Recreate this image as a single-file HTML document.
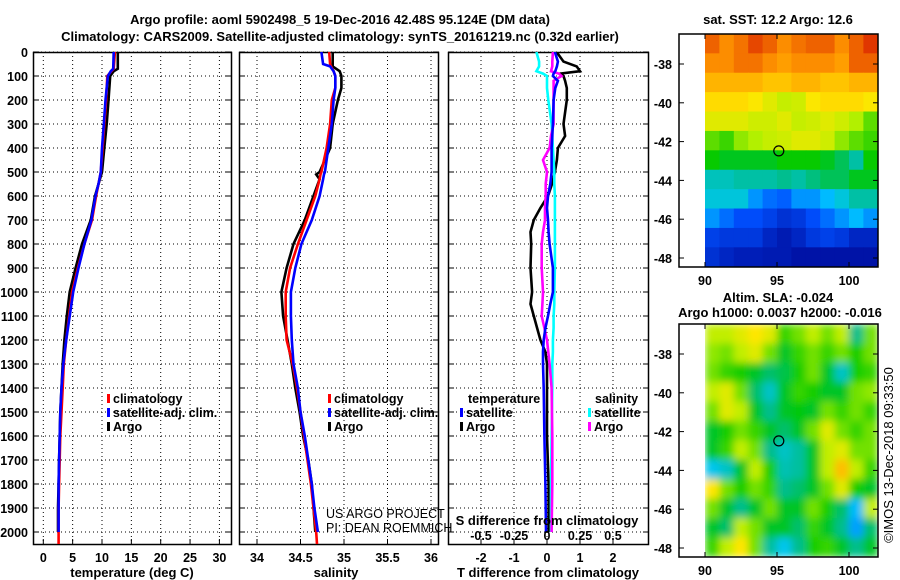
<!DOCTYPE html>
<html><head><meta charset="utf-8"><style>
html,body{margin:0;padding:0;background:#fff}
svg{display:block;font-family:"Liberation Sans",sans-serif}
.t{font-weight:bold;font-size:13px}
.k{font-weight:bold;font-size:12.5px}
</style></head><body>
<svg id="c" width="900" height="580" viewBox="0 0 900 580">
<defs>
<clipPath id="cp1"><rect x="33" y="52" width="199" height="493"/></clipPath>
<clipPath id="cp2"><rect x="239" y="52" width="200" height="493"/></clipPath>
<clipPath id="cp3"><rect x="448" y="52" width="201" height="493"/></clipPath>
<clipPath id="cpm2"><rect x="704" y="324" width="174" height="233"/></clipPath>
<filter id="bl" x="0" y="0" width="1" height="1"><feGaussianBlur stdDeviation="4"/></filter>
</defs>
<text class="t" x="340" y="24" text-anchor="middle">Argo profile: aoml 5902498_5 19-Dec-2016 42.48S 95.124E (DM data)</text>
<text class="t" x="340" y="41" text-anchor="middle">Climatology: CARS2009. Satellite-adjusted climatology: synTS_20161219.nc (0.32d earlier)</text>
<text class="t" x="778" y="24" text-anchor="middle">sat. SST: 12.2 Argo: 12.6</text>
<text class="t" x="778" y="302" text-anchor="middle">Altim. SLA: -0.024</text>
<text class="t" x="780" y="317" text-anchor="middle">Argo h1000: 0.0037 h2000: -0.016</text>
<text x="893" y="455" font-size="13" text-anchor="middle" transform="rotate(-90 893 455)">©IMOS 13-Dec-2018 09:33:50</text>
<g id="g"></g>
</svg>
<script>
// ---- profile data (depth in m) ----
const tDepth = [0,70,80,100,200,300,400,500,550,600,700,800,900,1000,1100,1200,1300,1400,1500,1600,1700,1800,1900,2000];
const tArgo  = [12.7,12.7,12.0,11.4,11.1,10.8,10.4,10.0,9.4,8.8,8.1,6.6,5.5,4.5,4.0,3.6,3.3,3.1,2.9,2.8,2.7,2.6,2.5,2.5];
const tClim  = [12.2,12.0,11.6,10.9,10.7,10.4,10.1,9.8,9.4,9.0,8.3,7.0,5.9,4.9,4.4,3.9,3.5,3.3,3.1,2.9,2.8,2.7,2.6,2.6];
const tSat   = [12.0,11.9,11.5,11.0,10.6,10.3,10.0,9.8,9.4,8.9,8.2,7.0,6.0,5.1,4.5,3.9,3.4,3.1,2.9,2.8,2.7,2.6,2.6,2.6];
const sDepth = [0,50,60,80,100,150,200,300,400,500,510,530,600,700,800,900,1000,1100,1200,1300,1400,1500,1600,1700,1800,1900,2000,2050];
const sArgo  = [34.87,34.87,34.87,34.95,34.97,34.97,34.93,34.87,34.84,34.72,34.68,34.72,34.65,34.55,34.42,34.34,34.28,34.30,34.35,34.40,34.44,34.49,34.53,34.59,34.63,34.65,34.67,null];
const sClim  = [34.83,34.84,34.85,34.88,34.90,34.90,34.86,34.84,34.80,34.74,34.73,34.72,34.67,34.57,34.47,34.38,34.33,34.33,34.34,34.41,34.46,34.50,34.54,34.58,34.62,34.65,34.68,34.69];
const sSat   = [34.74,34.76,34.84,34.88,34.90,34.90,34.88,34.86,34.82,34.78,34.77,34.76,34.72,34.63,34.51,34.44,34.39,34.39,34.40,34.42,34.47,34.50,34.55,34.59,34.63,34.66,34.70,null];
const dDepth = [0,40,60,80,90,100,120,150,200,300,350,400,450,500,550,600,650,700,750,800,900,1000,1050,1100,1150,1200,1250,1300,1400,1600,1800,2000];
const dTArgo = [0.29,0.5,0.9,1.0,0.4,0.5,0.55,0.6,0.6,0.5,0.55,0.33,0.3,0.24,0.15,0.03,-0.2,-0.4,-0.5,-0.48,-0.5,-0.45,-0.5,-0.4,-0.3,-0.2,-0.05,0.0,0.0,0.0,0.05,0.05];
const dTSat  = [0.24,0.33,0.3,0.25,0.2,0.18,0.33,0.25,0.2,0.18,0.16,0.14,0.14,0.14,0.1,0.03,0.0,0.03,0.05,0.08,0.18,0.18,0.1,0.03,-0.05,-0.1,-0.12,-0.12,-0.1,-0.08,-0.05,-0.03];
const dSSat  = [-0.08,-0.06,-0.06,-0.08,-0.03,0.0,0.0,0.0,0.01,0.035,0.04,0.045,0.05,0.055,0.055,0.06,0.06,0.06,0.06,0.06,0.06,0.055,0.055,0.05,0.05,0.045,0.045,0.04,0.04,0.035,0.03,0.03];
const dSArgo = [0.045,0.04,0.04,0.03,0.09,0.11,0.05,0.05,0.05,0.05,0.03,0.02,-0.03,0.0,-0.01,-0.01,-0.015,-0.015,-0.03,-0.04,-0.04,-0.03,-0.035,-0.04,-0.02,0.0,0.01,0.02,0.035,0.04,0.04,0.035];
// ---- map data (rows from north -36.5 to south -48.5, cols 90..102 E) ----
const sstRows = [
[15.5,15,15.3,15.8,15.5,15,15.3,15.5,15.5,15,15.5,16],
[15,15,15.3,15.3,15,14.8,15,15,15,14.8,15.5,15.5],
[14.5,14.5,14.5,14.5,14.3,14.3,14.5,14.5,14.3,14.3,14.5,14.5],
[14,14,14,13.8,13.5,13.2,13.3,13.8,14,14,14,13.8],
[13.5,13.5,13.5,13.3,13.3,13.5,13.2,13.3,13.5,13.3,13,12.5],
[12.5,12.3,12.8,13,13.2,13.3,13.5,13.5,13.3,12.8,12.5,12.3],
[12,11.8,11.8,11.8,11.8,12,12,12,11.8,11.5,11,12],
[10.8,10.8,11,11,11,11.2,11,11.3,11.5,11.5,11.8,11.8],
[10.5,10.5,10.5,9.5,9,8.8,9.5,9.5,10,10.5,11,11],
[9.5,9,8.5,8.5,8.2,7.8,8,8.5,9,9.5,10,9.5],
[8.2,8,8,8,7.5,7.2,7.5,8,8.2,8,7.5,7.5],
[7.8,7.5,7.3,7.3,7.2,7.2,7,7,7,7,7,7]];
const slaRows = [
[0.08,0.08,0.1,0.12,0.1,0.03,0.05,0.08,0.05,0.08,-0.03,0.05],
[0.06,0.05,0.08,0.1,0.05,0,0.03,0.05,0.03,0.05,0.02,0.05],
[0.05,0.03,0.02,0,-0.02,-0.01,0.02,0.05,0,-0.06,0.02,0.03],
[0.08,0.1,0.05,-0.02,-0.06,0,0.03,0.02,0,0,0.05,0.06],
[0.05,0.1,0.08,0,-0.03,0,0.01,0,0.05,0.03,0.05,0.03],
[0,0.02,0.05,0.03,0,-0.02,0,0.05,0.1,0.05,0.03,0.05],
[0,0.03,0.08,0.05,-0.03,-0.06,-0.04,0,0.08,0.1,0.05,0.05],
[-0.08,-0.06,0,0.08,0.02,-0.05,-0.04,0,0.08,0.15,0.08,0.03],
[0.12,0.05,0.02,0.05,0.03,-0.03,-0.02,0,0.05,0.1,0.02,0],
[0.05,0,-0.03,0,0.05,0,0,0.05,0.02,-0.02,-0.1,0.08],
[0,-0.02,0.08,0.05,0,0,-0.02,0.03,0,-0.03,-0.12,-0.02],
[0.03,0.08,0.12,0.05,-0.04,-0.08,-0.03,0.02,0.03,0,-0.03,0]];
const depthTicks = [0,100,200,300,400,500,600,700,800,900,1000,1100,1200,1300,1400,1500,1600,1700,1800,1900,2000];
const tTicks = [0,5,10,15,20,25,30];
const sTicks = [34,34.5,35,35.5,36];
const dTTicks = [-2,-1,0,1,2];
const dSTicks = [-0.5,-0.25,0,0.25,0.5];
const latTicks = [-38,-40,-42,-44,-46,-48];
const lonTicks = [90,95,100];
const floatLon = 95.124, floatLat = -42.48;

const NS='http://www.w3.org/2000/svg';
const G=document.getElementById('g');
function mk(tag,attrs,parent){const e=document.createElementNS(NS,tag);for(const k in attrs)e.setAttribute(k,attrs[k]);(parent||G).appendChild(e);return e;}
const yD=d=>52+0.24*d;
const xT=v=>43.3+5.87*v;
const xS=v=>257+87*(v-34);
const xDT=v=>547+33*v;
const xDS=v=>547+132*v;
const Y0=52,Y1=545;
const panels=[[33,232,'cp1',tTicks,xT,'temperature-panel'],[239,439,'cp2',sTicks,xS,'salinity-panel'],[448,649,'cp3',dTTicks,xDT,'difference-panel']];
panels.forEach(p=>{
  const g=mk('g',{});
  
  
  depthTicks.forEach(d=>{
    const l=mk('line',{x1:p[0],x2:p[1],y1:yD(d),y2:yD(d),stroke:'#000','stroke-width':1,'stroke-dasharray':'1,3'},g);
    
    
    mk('line',{x1:p[0],x2:p[0]+6,y1:yD(d),y2:yD(d),stroke:'#000'},g);
    mk('line',{x1:p[1]-6,x2:p[1],y1:yD(d),y2:yD(d),stroke:'#000'},g);
  });
  p[3].forEach(v=>{
    const x=p[4](v);
    const l=mk('line',{x1:x,x2:x,y1:Y0,y2:Y1,stroke:'#000','stroke-width':1,'stroke-dasharray':'1,3'},g);
    
    
    mk('line',{x1:x,x2:x,y1:Y1-6,y2:Y1,stroke:'#000'},g);
    const t=mk('text',{x:x,y:562,'text-anchor':'middle',class:'k'},g);
    t.textContent=String(v);
    
    
  });
  mk('rect',{x:p[0]+0.5,y:Y0+0.5,width:p[1]-p[0]-1,height:Y1-Y0-1,fill:'none',stroke:'#000','stroke-width':1.5},g);
});
depthTicks.forEach(d=>{
  const t=mk('text',{x:28,y:yD(d)+5,'text-anchor':'end',class:'k'});
  t.textContent=String(d);
  
  
});
function line(depths,vals,xf,col,clip,name){
  const pts=[];
  for(let i=0;i<depths.length;i++){ if(vals[i]==null)continue; pts.push(xf(vals[i]).toFixed(1)+','+yD(depths[i]).toFixed(1)); }
  const pl=mk('polyline',{points:pts.join(' '),fill:'none',stroke:col,'stroke-width':2.6,'clip-path':'url(#'+clip+')'});
  
  
}
line(tDepth,tArgo,xT,'#000','cp1','temperature-argo-line');
line(tDepth.concat([2050]),tClim.concat([2.6]),xT,'#f00','cp1','temperature-climatology-line');
line(tDepth,tSat,xT,'#00f','cp1','temperature-satellite-line');
line(sDepth,sArgo,xS,'#000','cp2','salinity-argo-line');
line(sDepth,sClim,xS,'#f00','cp2','salinity-climatology-line');
line(sDepth,sSat,xS,'#00f','cp2','salinity-satellite-line');
line(dDepth,dTArgo,xDT,'#000','cp3','t-diff-argo-line');
line(dDepth,dSSat,xDS,'#0ff','cp3','s-diff-satellite-line');
line(dDepth,dSArgo,xDS,'#f0f','cp3','s-diff-argo-line');
line(dDepth,dTSat,xDT,'#00f','cp3','t-diff-satellite-line');
dSTicks.forEach(v=>{
  const t=mk('text',{x:xDS(v),y:540,'text-anchor':'middle',class:'k'});
  t.textContent=(v===0?'0':String(v));
  
  
});
function txt(x,y,s,name,cls,anchor){const t=mk('text',{x:x,y:y,class:cls||'k','text-anchor':anchor||'start'});t.textContent=s;return t;}
txt(132,577,'temperature (deg C)','x-axis-title-temperature','t','middle');
txt(336,577,'salinity','x-axis-title-salinity','t','middle');
txt(548,577,'T difference from climatology','x-axis-title-t-difference','t','middle');
txt(547,525,'S difference from climatology','s-axis-title','t','middle');
const u1=txt(326,518,'US ARGO PROJECT','credit-project','x');u1.setAttribute('font-size','12.5');
const u2=txt(326,532,'PI: DEAN ROEMMICH','credit-pi','x');u2.setAttribute('font-size','12.5');
function leg(x,y,col,label,name){
  const r=mk('rect',{x:x,y:y-9,width:3,height:9,fill:col});
  
  txt(x+6,y,label,name,'k');
}
leg(107,403,'#f00','climatology','legend-climatology');
leg(107,417,'#00f','satellite-adj. clim.','legend-satellite-adj');
leg(107,431,'#000','Argo','legend-argo');
leg(328,403,'#f00','climatology','legend-sal-climatology');
leg(328,417,'#00f','satellite-adj. clim.','legend-sal-satellite-adj');
leg(328,431,'#000','Argo','legend-sal-argo');
txt(468,403,'temperature','legend-temperature-header','k');
leg(460,417,'#00f','satellite','legend-t-satellite');
leg(460,431,'#000','Argo','legend-t-argo');
txt(595,403,'salinity','legend-salinity-header','k');
leg(588,417,'#0ff','satellite','legend-s-satellite');
leg(588,431,'#f0f','Argo','legend-s-argo');
// ---- maps ----
const cStops=[[0,[0,0,140]],[0.2,[0,80,255]],[0.35,[0,200,255]],[0.45,[0,190,140]],[0.52,[0,200,0]],[0.62,[180,240,0]],[0.7,[255,230,0]],[0.8,[255,150,0]],[0.92,[220,40,0]],[1,[150,0,0]]];
function cmap(v){
  v=Math.max(0,Math.min(1,v));
  for(let i=1;i<cStops.length;i++){
    if(v<=cStops[i][0]){const a=cStops[i-1],b=cStops[i];const f=(v-a[0])/(b[0]-a[0]);
      return 'rgb('+a[1].map((c,k)=>Math.round(c+(b[1][k]-c)*f)).join(',')+')';}
  }
  return 'rgb(150,0,0)';
}
const xL=lon=>705+14.4*(lon-90);
function map(top,rows,cmin,cmax,name,clip){
  const g=mk('g',{});
  
  
  const yl=lat=>top+30+19.4*(-38-lat);
  const cells=mk('g',clip?{'clip-path':'url(#'+clip+')'}:{},g);
  const inner=clip?mk('g',{filter:'url(#bl)'},cells):cells;
  rows.forEach((row,i)=>row.forEach((v,j)=>{
    const la=-36.45-i, lo=90+j;
    const r=mk('rect',{x:xL(lo),y:yl(la),width:14.4+0.5,height:19.4+0.5,fill:cmap((v-cmin)/(cmax-cmin))},inner);
    
    
  }));
  mk('rect',{x:679,y:top,width:199,height:233,fill:'none',stroke:'#000','stroke-width':1.5},g);
  latTicks.forEach(la=>{
    const y=yl(la);
    mk('line',{x1:679,x2:684,y1:y,y2:y,stroke:'#000'},g);
    mk('line',{x1:873,x2:878,y1:y,y2:y,stroke:'#000'},g);
    const t=mk('text',{x:672,y:y+5,'text-anchor':'end',class:'k'},g);t.textContent=String(la);
    
    
  });
  lonTicks.forEach(lo=>{
    const x=xL(lo);
    mk('line',{x1:x,x2:x,y1:top+233-5,y2:top+233,stroke:'#000'},g);
    mk('line',{x1:x,x2:x,y1:top,y2:top+5,stroke:'#000'},g);
    const t=mk('text',{x:x,y:top+251,'text-anchor':'middle',class:'k'},g);t.textContent=String(lo);
    
    
  });
  const c=mk('circle',{cx:xL(floatLon),cy:yl(floatLat),r:5,fill:'none',stroke:'#000','stroke-width':1.2},g);
  
  
}
map(34,sstRows,6.5,17,'sst-map',null);
map(324,slaRows,-0.3,0.3,'sla-map','cpm2');
</script>
</body></html>
